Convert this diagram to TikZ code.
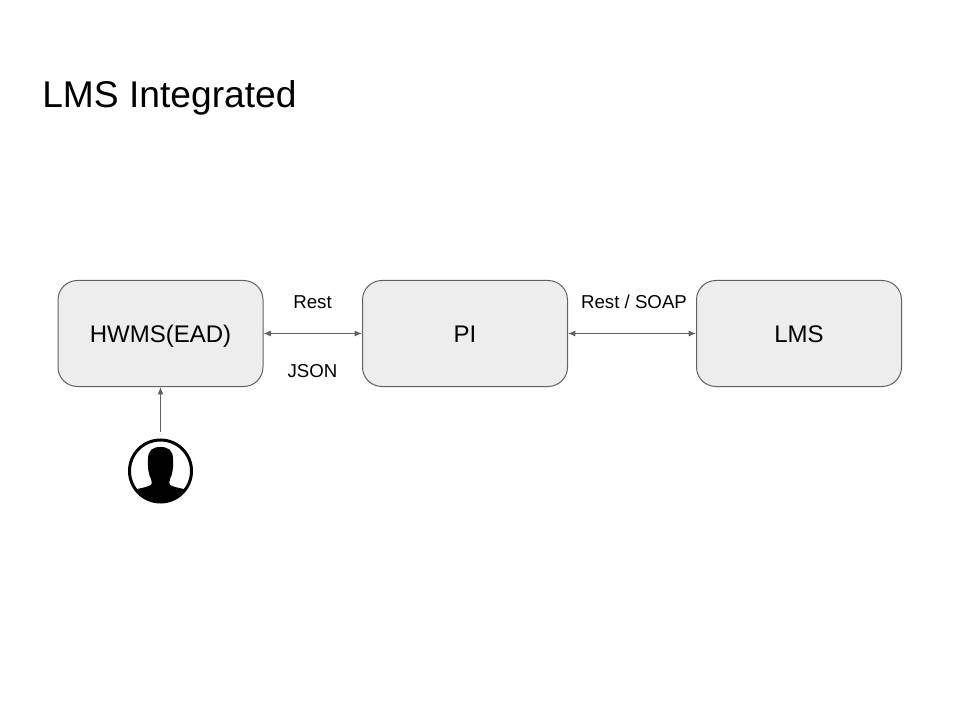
\documentclass[tikz,border=0pt]{standalone}
\usepackage{fontspec}
\setmainfont{Liberation Sans}
\usetikzlibrary{arrows.meta}
\tikzset{
  box/.style={draw=black!62,line width=0.75pt,fill=black!7,rounded corners=14.5pt,minimum width=153.75pt,minimum height=79.5pt,inner sep=0pt,text height=12.9pt,text depth=-0.6pt,font=\fontsize{18}{21}\selectfont},
  lab/.style={inner sep=0pt,font=\fontsize{14}{16}\selectfont},
  conn/.style={draw=black!62,line width=0.75pt},
  both/.style={conn,{Latex[length=5.5pt,width=4.5pt]}-{Latex[length=5.5pt,width=4.5pt]}},
  one/.style={conn,-{Latex[length=5.5pt,width=4.5pt]}}
}
\begin{document}
\begin{tikzpicture}[x=0.75pt,y=-0.75pt]
\useasboundingbox (0,0) rectangle (960,720);
\fill[white] (0,0) rectangle (960,720);
\node[anchor=base west,inner sep=0pt,font=\fontsize{27.9}{32}\selectfont] (title) at (42,108) {LMS Integrated};
\node[box] (hwms) at (160.5,333.5) {HWMS(EAD)};
\node[box] (pi) at (465,333.5) {PI};
\node[box] (lms) at (799,333.5) {LMS};
\draw[both] (hwms) -- (pi);
\draw[both] (pi) -- (lms);
\node[lab,anchor=base] (rest) at (312.5,308) {Rest};
\node[lab,anchor=base] (json) at (312.5,377) {JSON};
\node[lab,anchor=base] (soap) at (634,308) {Rest / SOAP};
% user icon
\node[circle,draw=black,line width=2.25pt,fill=white,minimum size=46.5pt,inner sep=0pt] (user) at (160.5,471) {};
\begin{scope}
\clip (160.5,471) circle (31);
\fill[black] (148,459)
  .. controls (148,450) and (153,447) .. (160.5,447)
  .. controls (168,447) and (173,450) .. (173,459)
  .. controls (173.5,468) and (172.5,474) .. (170,479)
  .. controls (169,482) and (169,484) .. (170,485)
  .. controls (174,487) and (179,488) .. (186,489.5)
  -- (186,510) -- (135,510) -- (135,489.5)
  .. controls (142,488) and (147,487) .. (151,485)
  .. controls (152,484) and (152,482) .. (151,479)
  .. controls (148.5,474) and (147.5,468) .. (148,459) -- cycle;
\end{scope}
\coordinate (ustart) at (160.5,432);
\draw[one] (ustart) -- (hwms.south);
\end{tikzpicture}
\end{document}
